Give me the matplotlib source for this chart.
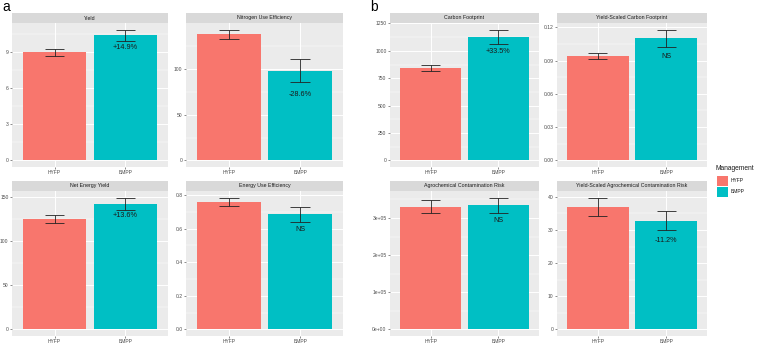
import matplotlib
matplotlib.use("Agg")
import matplotlib.pyplot as plt
from matplotlib.patches import Rectangle

plt.rcParams["font.family"] = ["Liberation Sans", "DejaVu Sans"]

# ---------------- data ----------------
groups = ["HYFP", "BMPP"]
colors = ["#F8766D", "#00BFC4"]

titles = ["Yield", "Nitrogen Use Efficiency", "Net Energy Yield", "Energy Use Efficiency",
          "Carbon Footprint", "Yield-Scaled Carbon Footprint",
          "Agrochemical Contamination Risk", "Yield-Scaled Agrochemical Contamination Risk"]

yield_mean = [9.0, 10.41]
yield_se = [0.28, 0.49]
nue_mean = [138.0, 98.2]
nue_se = [5.0, 13.0]
ney_mean = [125.1, 142.5]
ney_se = [4.5, 6.8]
eue_mean = [0.760, 0.685]
eue_se = [0.025, 0.045]
cf_mean = [844.0, 1127.0]
cf_se = [24.0, 67.0]
yscf_mean = [0.0942, 0.1099]
yscf_se = [0.0027, 0.008]
acr_mean = [330600.0, 334100.0]
acr_se = [18000.0, 21000.0]
ysacr_mean = [36.98, 32.86]
ysacr_se = [2.8, 3.0]

labels = ["+14.9%", "-28.6%", "+13.6%", "NS", "+33.5%", "NS", "NS", "-11.2%"]

yticks = [
    [0, 3, 6, 9],
    [0, 50, 100],
    [0, 50, 100, 150],
    [0.0, 0.2, 0.4, 0.6, 0.8],
    [0, 250, 500, 750, 1000, 1250],
    [0.0, 0.03, 0.06, 0.09, 0.12],
    [0, 100000, 200000, 300000],
    [0, 10, 20, 30, 40],
]
ytick_labels = [
    ["0", "3", "6", "9"],
    ["0", "50", "100"],
    ["0", "50", "100", "150"],
    ["0.0", "0.2", "0.4", "0.6", "0.8"],
    ["0", "250", "500", "750", "1000", "1250"],
    ["0.00", "0.03", "0.06", "0.09", "0.12"],
    ["0e+00", "1e+05", "2e+05", "3e+05"],
    ["0", "10", "20", "30", "40"],
]

means = [yield_mean, nue_mean, ney_mean, eue_mean, cf_mean, yscf_mean, acr_mean, ysacr_mean]
ses = [yield_se, nue_se, ney_se, eue_se, cf_se, yscf_se, acr_se, ysacr_se]

# ---------------- layout ----------------
W, H = 758, 346
fig = plt.figure(figsize=(W / 100, H / 100), dpi=100)
fig.patch.set_facecolor("white")

cols = [(12, 168), (186, 343), (12, 168), (186, 343),
        (390, 539), (557, 707), (390, 539), (557, 707)]
rows = [(13, 23, 167), (13, 23, 167), (181, 191, 336), (181, 191, 336),
        (13, 23, 167), (13, 23, 167), (181, 191, 336), (181, 191, 336)]

def px_ax(x0, x1, ytop, ybot):
    return fig.add_axes([x0 / W, 1 - ybot / H, (x1 - x0) / W, (ybot - ytop) / H])

tick_col = "#4D4D4D"
for i in range(8):
    x0, x1 = cols[i]
    st, pt, pb = rows[i]
    ax = px_ax(x0, x1, pt, pb)
    ax.set_facecolor("#EBEBEB")
    m = means[i]
    s = ses[i]
    xs = [1, 2]
    top = max(mm + ss for mm, ss in zip(m, s))
    ax.set_ylim(-0.05 * top, 1.05 * top)
    ax.set_xlim(0.4, 2.6)
    yt = yticks[i]
    step = yt[1] - yt[0]
    minors = [v + step / 2 for v in yt if v + step / 2 < 1.05 * top]
    for v in minors:
        ax.axhline(v, color="white", lw=0.35, zorder=0)
    for v in yt:
        ax.axhline(v, color="white", lw=0.7, zorder=0)
    for v in xs:
        ax.axvline(v, color="white", lw=0.7, zorder=0)
    ax.bar(xs, m, width=0.9, color=colors, zorder=2)
    for xv, mm, ss in zip(xs, m, s):
        ax.vlines(xv, mm - ss, mm + ss, color="#222222", lw=0.6, zorder=3)
        ax.hlines([mm - ss, mm + ss], xv - 0.14, xv + 0.14, color="#222222", lw=0.6, zorder=3)
    ax.text(2, m[1] - 2 * s[1], labels[i], ha="center", va="center",
            fontsize=5.2, color="#1a1a1a", zorder=4)
    ax.set_yticks(yt)
    ax.set_yticklabels(ytick_labels[i])
    ax.set_xticks(xs)
    ax.set_xticklabels(groups)
    ax.tick_params(axis="both", labelsize=3.6, colors="#333333", length=1.5, width=0.4, pad=1,
                   labelcolor=tick_col)
    for sp in ax.spines.values():
        sp.set_visible(False)
    sax = px_ax(x0, x1, st, pt)
    sax.set_facecolor("#D9D9D9")
    sax.set_xticks([])
    sax.set_yticks([])
    for sp in sax.spines.values():
        sp.set_visible(False)
    sax.text(0.5, 0.5, titles[i], ha="center", va="center", fontsize=3.8,
             color="#1A1A1A", transform=sax.transAxes)

fig.text(2 / W, 1 - 7 / H, "a", fontsize=10, va="center", ha="left")
fig.text(370 / W, 1 - 7 / H, "b", fontsize=10, va="center", ha="left")

fig.text(716 / W, 1 - 168 / H, "Management", fontsize=4.8, va="center", ha="left", color="#1A1A1A")
key_tops = [176, 187]
for k in range(2):
    kt = key_tops[k]
    lax = px_ax(717, 728, kt, kt + 10)
    lax.add_patch(Rectangle((0, 0), 1, 1, color=colors[k], transform=lax.transAxes))
    lax.set_axis_off()
    fig.text(731 / W, 1 - (kt + 5) / H, groups[k], fontsize=3.6, va="center", ha="left",
             color="#1A1A1A")

fig.savefig("out.png", dpi=100)
